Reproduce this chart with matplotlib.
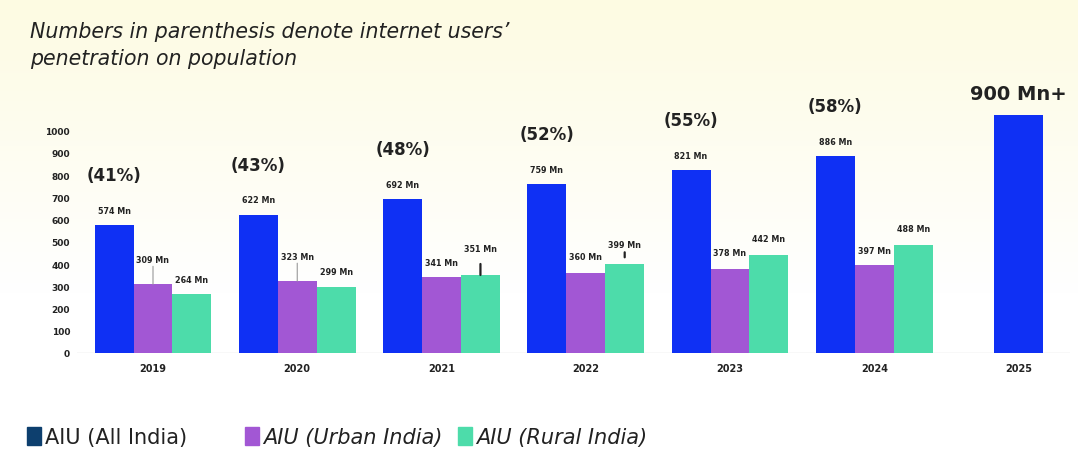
import numpy as np
import matplotlib.pyplot as plt
from matplotlib.patches import Rectangle

# --- data ---
years = ['2019', '2020', '2021', '2022', '2023', '2024', '2025']
all_india = [574, 622, 692, 759, 821, 886, 1070]   # 2025 bar drawn to ~1070, labelled "900 Mn+"
urban = [309, 323, 341, 360, 378, 397]
rural = [264, 299, 351, 399, 442, 488]
penetration = ['(41%)', '(43%)', '(48%)', '(52%)', '(55%)', '(58%)']
all_labels = ['574 Mn', '622 Mn', '692 Mn', '759 Mn', '821 Mn', '886 Mn', '900 Mn+']
urban_labels = ['309 Mn', '323 Mn', '341 Mn', '360 Mn', '378 Mn', '397 Mn']
rural_labels = ['264 Mn', '299 Mn', '351 Mn', '399 Mn', '442 Mn', '488 Mn']
yticks = [0, 100, 200, 300, 400, 500, 600, 700, 800, 900, 1000]
legend_names = ['AIU (All India)', 'AIU (Urban India)', 'AIU (Rural India)']

# --- styling ---
BLUE = '#0f30f4'
PURPLE = '#a257d4'
GREEN = '#4ddcaa'
NAVY = '#0d3f6e'
TXT = '#222222'
W = 0.27
PX = 0.72  # points per pixel at dpi 100

# label offsets above bar tops (pixels)
urban_dy = [25, 25, 15, 16, 16, 14]
rural_dy = [15, 15, 26, 20, 16, 16]
# leader lines: (series, index, colour, width, top_px, bottom_px) measured from bar top
leaders = [('u', 0, '#999999', 0.8, 18, 0), ('u', 1, '#999999', 0.8, 18, 0),
           ('r', 2, '#222222', 1.6, 11, 0), ('r', 3, '#222222', 1.6, 12, 7)]

fig = plt.figure(figsize=(10.78, 4.52), dpi=100)

# background + free text layer in pixel coords
bg = fig.add_axes([0, 0, 1, 1], zorder=0)
bg.set_xlim(0, 1078)
bg.set_ylim(452, 0)
bg.axis('off')
grad = np.linspace(0, 1, 256)
cols = np.ones((256, 1, 3))
t = np.clip(grad / 0.65, 0, 1)[:, None]
cols[:, 0, :] = (1 - t) * np.array([253, 251, 226]) / 255 + t * 1.0
bg.imshow(cols, extent=[0, 1078, 452, 0], aspect='auto')

bg.text(30, 32, "Numbers in parenthesis denote internet users\u2019", fontsize=14.8,
        style='italic', color=TXT, va='center', ha='left')
bg.text(30, 59, "penetration on population", fontsize=14.8,
        style='italic', color=TXT, va='center', ha='left')

# legend
legend_cols = [NAVY, PURPLE, GREEN]
legend_x = [27, 245, 458]
legend_styles = ['normal', 'italic', 'italic']
for name, c, x, st in zip(legend_names, legend_cols, legend_x, legend_styles):
    bg.add_patch(Rectangle((x, 428), 14, 18, color=c))
    bg.text(x + 18, 438, name, fontsize=15, style=st, color=TXT, va='center', ha='left')

# main chart
ax = fig.add_axes([77 / 1078, 1 - 354 / 452, (1070 - 77) / 1078, (354 - 60) / 452], zorder=1)
ax.patch.set_alpha(0)
x = np.arange(len(years))
ax.set_xlim((77 - 153) / 144.25, 6 + (1070 - 1018.5) / 144.25)
ax.set_ylim(0, (354 - 60) / 0.2223)

xb = np.append(x[:-1] - W, x[-1])
widths = [W] * (len(years) - 1) + [0.34]
ax.bar(xb, all_india, width=widths, color=BLUE, zorder=2)
ax.bar(x[:-1], urban, width=W, color=PURPLE, zorder=2)
ax.bar(x[:-1] + W, rural, width=W, color=GREEN, zorder=2)

for i, (v, lab) in enumerate(zip(all_india, all_labels)):
    if i < len(penetration):
        ax.annotate(lab, (xb[i], v), xytext=(0, 15 * PX), textcoords='offset points',
                    ha='center', va='center', fontsize=5.8, fontweight='bold', color=TXT)
        ax.annotate(penetration[i], (xb[i], v), xytext=(0, 50 * PX), textcoords='offset points',
                    ha='center', va='center', fontsize=12, fontweight='bold', color=TXT)
    else:
        ax.annotate(lab, (xb[i], v), xytext=(0, 22 * PX), textcoords='offset points',
                    ha='center', va='center', fontsize=14, fontweight='bold', color=TXT)

for i in range(len(urban)):
    ax.annotate(urban_labels[i], (x[i], urban[i]), xytext=(0, urban_dy[i] * PX),
                textcoords='offset points', ha='center', va='center',
                fontsize=5.8, fontweight='bold', color=TXT)
    ax.annotate(rural_labels[i], (x[i] + W, rural[i]), xytext=(0, rural_dy[i] * PX),
                textcoords='offset points', ha='center', va='center',
                fontsize=5.8, fontweight='bold', color=TXT)

for s, i, c, lw, top, bot in leaders:
    xx = x[i] if s == 'u' else x[i] + W
    vv = urban[i] if s == 'u' else rural[i]
    ax.annotate('', (xx, vv), xytext=(0, top * PX), textcoords='offset points',
                arrowprops=dict(arrowstyle='-', color=c, lw=lw, shrinkA=0, shrinkB=bot * PX))

ax.axhline(0, color='#dddddd', lw=1, zorder=1)
ax.set_yticks(yticks)
ax.set_yticklabels([str(v) for v in yticks], fontsize=6.5, fontweight='bold', color=TXT)
ax.set_xticks(x)
ax.set_xticklabels(years, fontsize=7, fontweight='bold', color=TXT)
ax.tick_params(length=0)
ax.tick_params(axis='y', pad=5)
ax.tick_params(axis='x', pad=7)
for sp in ax.spines.values():
    sp.set_visible(False)

fig.savefig('out.png', dpi=100)
